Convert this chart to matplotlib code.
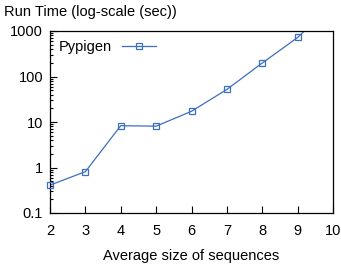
import matplotlib
matplotlib.use("Agg")
import matplotlib.pyplot as plt
from matplotlib.ticker import FixedLocator, FixedFormatter, LogLocator, NullFormatter
from matplotlib.lines import Line2D

plt.rcParams['font.family'] = ['Liberation Sans', 'DejaVu Sans']

sizes = [2, 3, 4, 5, 6, 7, 8, 9, 10]
run_time = [0.41, 0.81, 8.3, 8.1, 17.2, 52, 198, 720, 4000]
yticks = [0.1, 1, 10, 100, 1000]
ytick_labels = ["0.1", "1", "10", "100", "1000"]
xticks = [2, 3, 4, 5, 6, 7, 8, 9, 10]

color = "#3b6fc0"
fs = 10.5

fig = plt.figure(figsize=(3.41, 2.66), dpi=100)
ax = fig.add_axes([50/341, 1-213/266, (333-50)/341, (213-31)/266])

ymin, ymax = 0.1, 1000
ax.plot(sizes, run_time, color=color, lw=0.9, clip_on=True)
mx = [x for x, y in zip(sizes, run_time) if ymin <= y <= ymax]
my = [y for y in run_time if ymin <= y <= ymax]
ax.plot(mx, my, linestyle="none", marker="s", markersize=5,
        markerfacecolor="none", markeredgecolor=color, markeredgewidth=0.9,
        clip_on=False, zorder=3)

ax.set_yscale("log")
ax.set_xlim(2, 10)
ax.set_ylim(ymin, ymax)
ax.yaxis.set_major_locator(FixedLocator(yticks))
ax.yaxis.set_major_formatter(FixedFormatter(ytick_labels))
ax.yaxis.set_minor_locator(LogLocator(base=10, subs=range(2, 10)))
ax.yaxis.set_minor_formatter(NullFormatter())
ax.set_xticks(xticks)
ax.set_xticklabels([str(v) for v in xticks])

ax.tick_params(which="both", direction="in", top=False, right=False, labelsize=fs, width=0.8)
ax.tick_params(which="major", length=5, pad=5)
ax.tick_params(which="minor", length=2.5)
ax.tick_params(axis="x", pad=8)
for s in ax.spines.values():
    s.set_linewidth(0.9)

ax.set_xlabel("Average size of sequences", fontsize=fs, labelpad=8)
fig.text(4/341, 1-12/266, "Run Time (log-scale (sec))", fontsize=fs, va="center", ha="left")

handle = Line2D([], [], color=color, lw=0.9, marker="s", markersize=5,
                markerfacecolor="none", markeredgecolor=color, markeredgewidth=0.9)
ax.legend([handle], ["Pypigen"], loc="upper left", frameon=False, markerfirst=False,
          fontsize=fs, handlelength=2.3, handletextpad=0.7, borderaxespad=0.2,
          bbox_to_anchor=(0.0, 1.0))

fig.savefig("out.png", dpi=100)
